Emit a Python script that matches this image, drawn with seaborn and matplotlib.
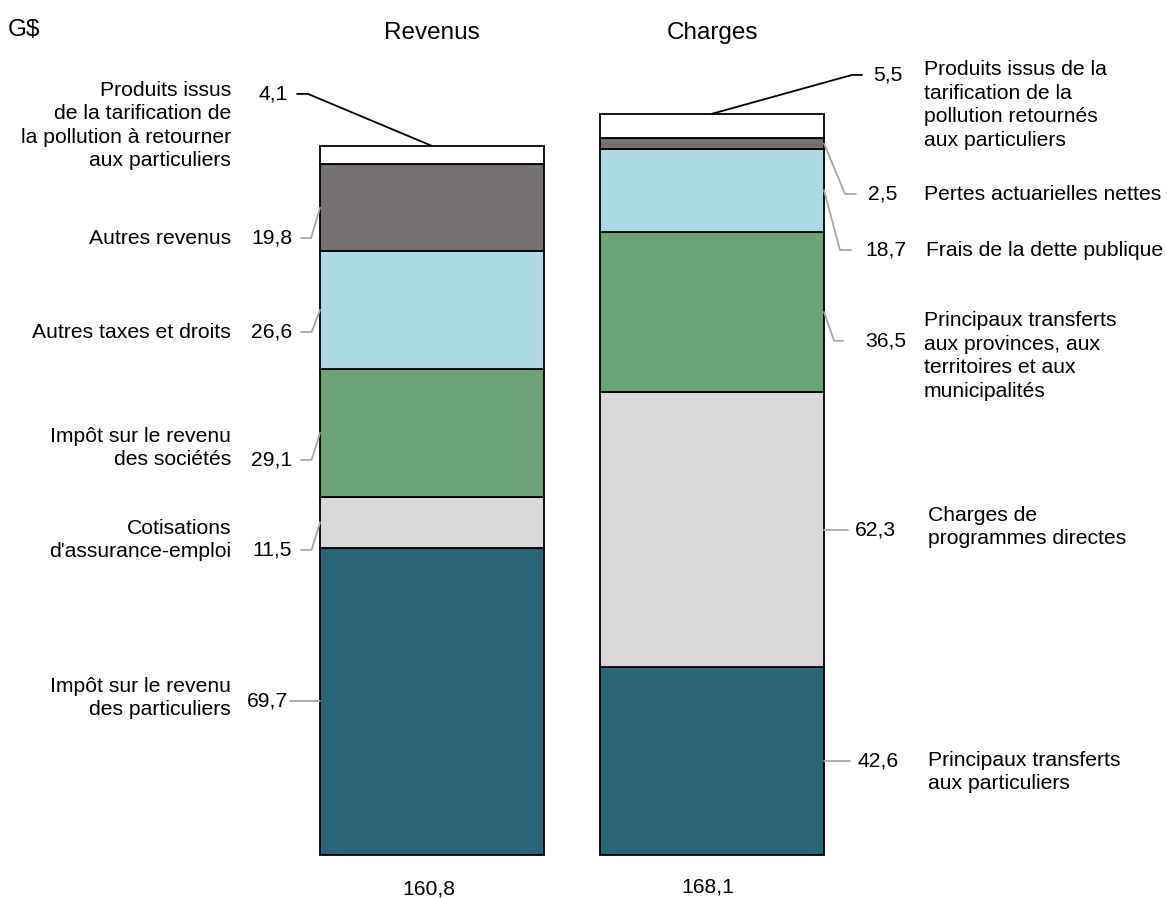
import matplotlib
matplotlib.use("Agg")
import matplotlib.pyplot as plt
import seaborn as sns
import numpy as np
import pandas as pd

# ---------------- data ----------------
categories = ["Revenus", "Charges"]
unit_label = "G$"
segment_colors = ["#296778", "#d9d9d9", "#6ba476", "#add8e6", "#767171", "#ffffff"]
revenus_values = [69.7, 11.5, 29.1, 26.6, 19.8, 4.1]
charges_values = [42.6, 62.3, 36.5, 18.7, 2.5, 5.5]
revenus_labels = [
    "Impôt sur le revenu\ndes particuliers",
    "Cotisations\nd'assurance-emploi",
    "Impôt sur le revenu\ndes sociétés",
    "Autres taxes et droits",
    "Autres revenus",
    "Produits issus\nde la tarification de\nla pollution à retourner\naux particuliers",
]
charges_labels = [
    "Principaux transferts\naux particuliers",
    "Charges de\nprogrammes directes",
    "Principaux transferts\naux provinces, aux\nterritoires et aux\nmunicipalités",
    "Frais de la dette publique",
    "Pertes actuarielles nettes",
    "Produits issus de la\ntarification de la\npollution retournés\naux particuliers",
]

# ---------------- layout (data coordinates) ----------------
rev_num_x = [-0.514, -0.5, -0.5, -0.5, -0.5, -0.514]
rev_num_y = [None, 69.2, 89.6, 118.6, 139.9, 172.6]
rev_desc_x = -0.718
rev_desc_y = [35.6, 71.4, 92.3, 118.6, 139.9, 165.4]
rev_elbow_x = [None, -0.43, -0.43, -0.43, -0.432, -0.443]
rev_end_x = [-0.507, -0.468, -0.468, -0.468, -0.468, -0.482]

chg_num_x = [1.518, 1.511, 1.546, 1.546, 1.557, 1.575]
chg_num_y = [None, None, 116.6, 137.2, 149.9, 176.9]
chg_desc_x = [1.771, 1.771, 1.757, 1.764, 1.757, 1.757]
chg_desc_y = [18.8, 74.4, 113.2, 137.2, 149.9, 170.1]
chg_elbow_x = [None, None, 1.436, 1.457, 1.475, 1.5]
chg_end_x = [1.493, 1.486, 1.468, 1.496, 1.514, 1.536]

FS = 15.2
FS_TITLE = 17.5
LS = 1.3
GRAY = "#a6a6a6"


def fmt(v):
    return f"{v:.1f}".replace(".", ",")


sns.set_theme(style="white")
plt.rcParams["font.family"] = ["Liberation Sans", "DejaVu Sans"]
plt.rcParams["text.color"] = "black"

fig = plt.figure(figsize=(11.67, 8.98), dpi=100)
ax = fig.add_axes([0, 0, 1, 1])

n_layers = len(revenus_values)
bottoms = np.zeros(2)
for i in range(n_layers):
    df = pd.DataFrame({"cat": categories, "val": [revenus_values[i], charges_values[i]]})
    sns.barplot(data=df, x="cat", y="val", bottom=bottoms.copy(), color=segment_colors[i],
                saturation=1, width=0.8, edgecolor="black", linewidth=1.3, ax=ax, zorder=2)
    bottoms += df["val"].to_numpy()

ax.set_xlim(-1.543, 2.625)
ax.set_ylim(-9.75, 193.9)
ax.axis("off")

# titles and unit
for j, c in enumerate(categories):
    ax.text(j, 186.4, c, ha="center", va="center", fontsize=FS_TITLE, color="black")
ax.text(-1.514, 187.0, unit_label, ha="left", va="center", fontsize=FS_TITLE, color="black")

# totals
totals = [sum(revenus_values), sum(charges_values)]
ax.text(-0.01, -7.6, fmt(totals[0]), ha="center", va="center", fontsize=FS, color="black")
ax.text(0.985, -7.2, fmt(totals[1]), ha="center", va="center", fontsize=FS, color="black")

# revenue annotations
cum = np.cumsum([0] + revenus_values)
for i, v in enumerate(revenus_values):
    mid = (cum[i] + cum[i + 1]) / 2
    top_seg = i == n_layers - 1
    ny = mid if rev_num_y[i] is None else rev_num_y[i]
    if top_seg:
        ax.plot([0, rev_elbow_x[i], rev_end_x[i]], [cum[-1], ny, ny],
                color="black", lw=1.3, zorder=3)
    elif rev_elbow_x[i] is None:
        ax.plot([-0.4, rev_end_x[i]], [mid, ny], color=GRAY, lw=1.3, zorder=3)
    else:
        ax.plot([-0.4, rev_elbow_x[i], rev_end_x[i]], [mid, ny, ny], color=GRAY, lw=1.3, zorder=3)
    ax.text(rev_num_x[i], ny, fmt(v), ha="right", va="center", fontsize=FS, color="black")
    ax.text(rev_desc_x, rev_desc_y[i], revenus_labels[i], ha="right", va="center",
            fontsize=FS, multialignment="right", linespacing=LS, color="black")

# charges annotations
cum = np.cumsum([0] + charges_values)
for i, v in enumerate(charges_values):
    mid = (cum[i] + cum[i + 1]) / 2
    top_seg = i == n_layers - 1
    ny = mid if chg_num_y[i] is None else chg_num_y[i]
    if top_seg:
        ax.plot([1, chg_elbow_x[i], chg_end_x[i]], [cum[-1], ny, ny],
                color="black", lw=1.3, zorder=3)
    elif chg_elbow_x[i] is None:
        ax.plot([1.4, chg_end_x[i]], [mid, ny], color=GRAY, lw=1.3, zorder=3)
    else:
        ax.plot([1.4, chg_elbow_x[i], chg_end_x[i]], [mid, ny, ny], color=GRAY, lw=1.3, zorder=3)
    ax.text(chg_num_x[i], ny, fmt(v), ha="left", va="center", fontsize=FS, color="black")
    ax.text(chg_desc_x[i], chg_desc_y[i], charges_labels[i], ha="left", va="center",
            fontsize=FS, multialignment="left", linespacing=LS, color="black")

fig.savefig("out.png", dpi=100)
